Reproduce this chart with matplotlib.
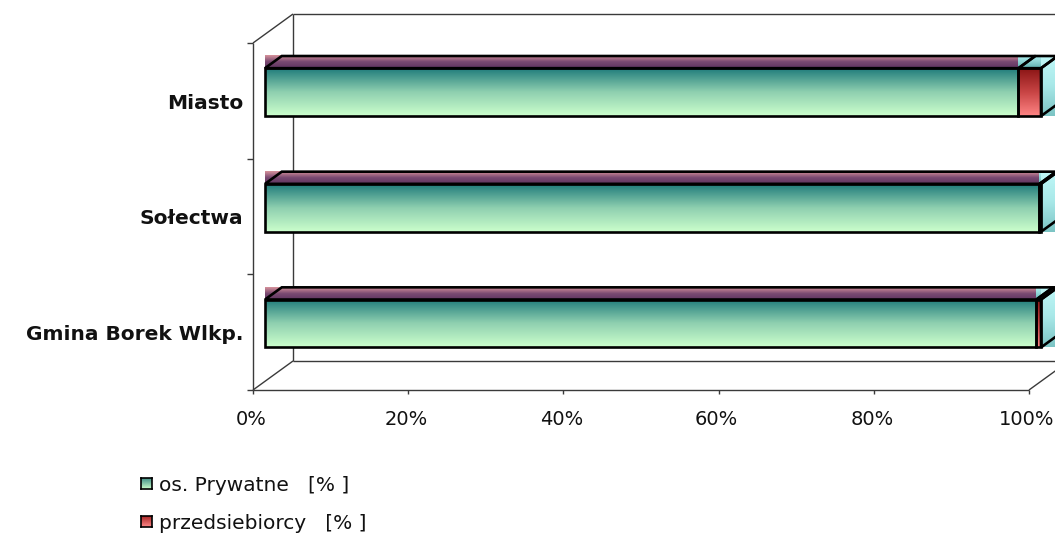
import numpy as np
import matplotlib
matplotlib.use('Agg')
import matplotlib.pyplot as plt
from matplotlib.patches import Polygon
from matplotlib.colors import LinearSegmentedColormap

# ---- data ----
categories = ['Gmina Borek Wlkp.', 'Sołectwa', 'Miasto']
prywatne = [99.4, 99.8, 97.1]
przedsiebiorcy = [0.6, 0.2, 2.9]
series_names = ['os. Prywatne   [% ]', 'przedsiebiorcy   [% ]']
xticks = [0, 20, 40, 60, 80, 100]
xticklabels = ['0%', '20%', '40%', '60%', '80%', '100%']

# ---- geometry (pixels of the front plane) ----
W, H = 1055, 540
fig = plt.figure(figsize=(W / 100, H / 100), dpi=100)
px0, px100 = 253, 1029
py0, pytop = 390, 43
ppx = (px100 - px0) / 100.0      # pixels per percent
ppy = (py0 - pytop) / 3.0        # pixels per category band
ax = fig.add_axes([0, 0, 1, 1])
ax.axis('off')

DX = 40 / ppx      # depth offset (x) in data units
DY = 29 / ppy      # depth offset (y) in data units
f0, f1 = 0.30, 0.72
hh = 0.207

wall_c = '#3a3a3a'
wall_lw = 1.0

def line(xs, ys, z=1):
    ax.plot(xs, ys, color=wall_c, lw=wall_lw, zorder=z, solid_capstyle='butt')

# walls
line([0, 0], [0, 3])
line([0, DX], [3, 3 + DY])
line([0, DX], [0, DY])
line([DX, DX], [DY, 3 + DY])
line([DX, 100 + DX + 20], [3 + DY, 3 + DY])
line([DX, 100 + DX + 20], [DY, DY])
line([0, 100], [0, 0])
line([100, 100 + DX], [0, DY])
for k in range(4):
    line([0, -6 / ppx], [k, k])
for t, lab in zip(xticks, xticklabels):
    line([t, t], [0, -4 / ppy])
    ax.text(t - 2 / ppx, -35 / ppy, lab, ha='center', va='baseline',
            fontsize=14, color='#111111')

def grad_box(xs, ys, colors, z):
    # colors listed bottom -> top
    cmap = LinearSegmentedColormap.from_list('g', colors)
    grad = np.linspace(0, 1, 256).reshape(-1, 1)
    ax.imshow(grad, extent=[min(xs), max(xs), min(ys), max(ys)], origin='lower',
              cmap=cmap, aspect='auto', zorder=z, interpolation='bilinear')

def outline(pts, z):
    ax.add_patch(Polygon(pts, closed=True, facecolor='none', edgecolor='black',
                         lw=1.9, zorder=z, joinstyle='miter'))

ox, oy = f0 * DX, f0 * DY
bx, by = (f1 - f0) * DX, (f1 - f0) * DY

styles = [
    dict(front=['#ccffcc', '#8fd0b0', '#1f7b7b'], top=['#5e3460', '#7a4a72', '#d8939c']),
    dict(front=['#ff8585', '#c84444', '#8a1515'], top=['#5fb0b0', '#8fd6d6', '#b4f4f4']),
]
side = ['#7cc4c4', '#a8e8e8', '#c0f8f8']

for i, cat in enumerate(categories):
    yc = i + 0.5
    yb, yt = yc - hh + oy, yc + hh + oy
    segs = [(0, prywatne[i]), (prywatne[i], prywatne[i] + przedsiebiorcy[i])]
    z = 3
    outs = []
    for s, (xa, xb) in enumerate(segs):
        st = styles[s]
        fx = [xa + ox, xb + ox, xb + ox, xa + ox]
        fy = [yb, yb, yt, yt]
        grad_box(fx, fy, st['front'], z)
        tx = [xa + ox, xb + ox, xb + ox + bx, xa + ox + bx]
        ty = [yt, yt, yt + by, yt + by]
        grad_box(tx, ty, st['top'], z + 0.1)
        outs.append(list(zip(fx, fy)))
        outs.append(list(zip(tx, ty)))
        z += 0.2
    xe = segs[-1][1]
    sx = [xe + ox, xe + ox + bx, xe + ox + bx, xe + ox]
    sy = [yb, yb + by, yt + by, yt]
    grad_box(sx, [yb, yt + by], side, z)
    outs.append(list(zip(sx, sy)))
    for p in outs:
        outline(p, 5)
    ax.text(-10 / ppx, yc - 8 / ppy, cat, ha='right', va='baseline',
            fontsize=14.5, fontweight='bold', color='#111111')

ax.set_xlim(-px0 / ppx, (W - px0) / ppx)
ax.set_ylim(-(H - py0) / ppy, py0 / ppy)

# legend
leg_marks = [(['#ccffcc', '#3f8f86'], 483), (['#ff8a8a', '#a01c1c'], 521)]
for (cols, yc_px), name in zip(leg_marks, series_names):
    lax = fig.add_axes([141 / W, 1 - (yc_px + 6) / H, 11 / W, 11 / H])
    cmap = LinearSegmentedColormap.from_list('g', cols)
    lax.imshow(np.linspace(0, 1, 64).reshape(-1, 1), origin='lower', cmap=cmap,
               aspect='auto', extent=[0, 1, 0, 1])
    lax.set_xticks([]); lax.set_yticks([])
    for sp in lax.spines.values():
        sp.set_linewidth(1.2); sp.set_color('black')
    fig.text(159 / W, 1 - (yc_px + 8) / H, name, ha='left', va='baseline',
             fontsize=14.5, color='#111111')

fig.savefig('out.png', dpi=100)
